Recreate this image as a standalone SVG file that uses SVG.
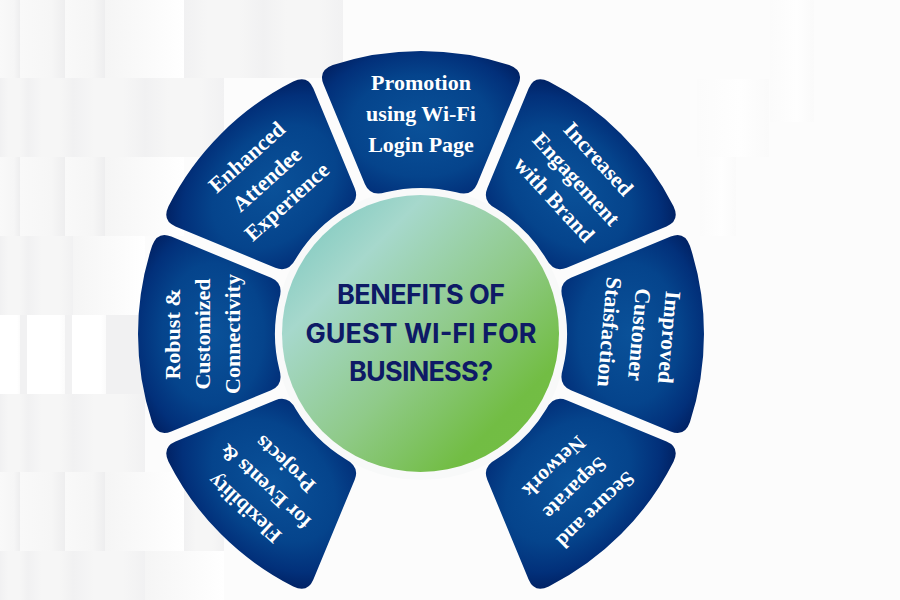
<svg xmlns="http://www.w3.org/2000/svg" width="900" height="600" viewBox="0 0 900 600">
<style>
.a{fill:url(#ta)}.b{fill:url(#tb)}.c{fill:url(#tc)}.d{fill:url(#td)}.e{fill:url(#te)}
.seg{fill:url(#blue)}
.lbl{font-family:"Liberation Serif","Times New Roman",serif;font-weight:700;font-size:22px;fill:#fff;text-anchor:middle}
.sm{font-size:21px}
.hub{font-family:Inter,"Liberation Sans",sans-serif;font-weight:700;font-size:27px;fill:#0e1a66;text-anchor:middle}
</style>
<defs>
<linearGradient id="ta"><stop offset="0" stop-color="#f9f9f9"/><stop offset=".7" stop-color="#f6f6f6"/><stop offset="1" stop-color="#eeeeef"/></linearGradient>
<linearGradient id="tb"><stop offset="0" stop-color="#f1f1f2"/><stop offset=".3" stop-color="#f6f6f6"/><stop offset=".7" stop-color="#f6f6f6"/><stop offset="1" stop-color="#f1f1f2"/></linearGradient>
<linearGradient id="tc"><stop offset="0" stop-color="#fff"/><stop offset=".85" stop-color="#fff"/><stop offset="1" stop-color="#fbfbfb"/></linearGradient>
<linearGradient id="td"><stop offset="0" stop-color="#fbfbfb"/><stop offset=".6" stop-color="#fefefe"/><stop offset="1" stop-color="#fafafa"/></linearGradient>
<linearGradient id="te"><stop offset="0" stop-color="#f5f5f5"/><stop offset="1" stop-color="#fff"/></linearGradient>
<radialGradient id="blue" gradientUnits="userSpaceOnUse" cx="0" cy="-208" r="128" gradientTransform="translate(0 -208) scale(1 .72) translate(0 208)"><stop offset="0" stop-color="#0a5199"/><stop offset=".55" stop-color="#05448c"/><stop offset=".82" stop-color="#02307a"/><stop offset="1" stop-color="#011f60"/></radialGradient>
<linearGradient id="green" x1="0" y1="0" x2="1" y2="1"><stop offset=".1" stop-color="#85cbc2"/><stop offset=".26" stop-color="#a6d8cc"/><stop offset=".55" stop-color="#8fca88"/><stop offset=".8" stop-color="#72bd44"/><stop offset="1" stop-color="#74bf44"/></linearGradient>
<path id="wedge" d="M-97.5-249.7Q-103.2-263.5-88.2-268.9A283 283 0 0 1 88.2-268.9Q103.2-263.5 97.5-249.7L56.15-149.9Q50.7-136.9 35.3-141.7A146 146 0 0 0-35.3-141.7Q-50.7-136.9-56.15-149.9Z"/>
</defs>
<g id="background">
<rect width="900" height="600" fill="#fcfcfc"/>
<rect class="a" x="0" y="0" width="20" height="78"/><rect class="a" x="20" y="0" width="45" height="78"/><rect class="a" x="65" y="0" width="40" height="78"/><rect class="e" x="105" y="0" width="79" height="78"/><rect class="b" x="184" y="0" width="79" height="78"/><rect class="b" x="263" y="0" width="80" height="78"/>
<rect class="b" x="0" y="78" width="28" height="79"/><rect class="b" x="28" y="78" width="45" height="79"/><rect class="b" x="73" y="78" width="72" height="79"/><rect class="b" x="145" y="78" width="79" height="79"/>
<rect class="a" x="0" y="157" width="20" height="79"/><rect class="a" x="20" y="157" width="45" height="79"/><rect class="a" x="65" y="157" width="40" height="79"/><rect class="e" x="105" y="157" width="79" height="79"/>
<rect class="b" x="0" y="236" width="28" height="79"/><rect class="b" x="28" y="236" width="45" height="79"/><rect class="e" x="73" y="236" width="72" height="79"/>
<rect x="0" y="315" width="145" height="79" fill="#f1f1f2"/>
<rect class="c" x="0" y="315" width="20" height="79"/><rect class="c" x="27" y="315" width="38" height="79"/><rect class="c" x="72" y="315" width="34" height="79"/>
<rect class="b" x="0" y="394" width="28" height="78"/><rect class="b" x="28" y="394" width="45" height="78"/><rect class="b" x="73" y="394" width="72" height="78"/>
<rect class="a" x="0" y="472" width="20" height="79"/><rect class="a" x="20" y="472" width="45" height="79"/><rect class="a" x="65" y="472" width="40" height="79"/><rect class="e" x="105" y="472" width="79" height="79"/><rect class="b" x="184" y="472" width="40" height="79"/>
<rect class="b" x="0" y="551" width="28" height="49"/><rect class="b" x="28" y="551" width="45" height="49"/><rect class="b" x="73" y="551" width="72" height="49"/><rect class="e" x="145" y="551" width="79" height="49"/>
<rect class="d" x="770" y="0" width="44" height="122"/><rect class="d" x="697" y="79" width="72" height="78"/><rect class="d" x="700" y="157" width="36" height="79"/>
</g>
<circle cx="421" cy="334" r="146" fill="#f8f9f9"/>
<g id="connectors"/>
<g id="node-promotion" transform="translate(421 334)"><use href="#wedge" class="seg"/>
<text class="lbl" y="-244">Promotion</text><text class="lbl" y="-213">using Wi-Fi</text><text class="lbl" y="-182">Login Page</text></g>
<g id="node-engagement" transform="translate(421 334) rotate(45)"><use href="#wedge" class="seg"/>
<g transform="rotate(2.5 0 -212)"><text class="lbl" y="-242">Increased</text><text class="lbl" y="-212">Engagement</text><text class="lbl" y="-182">with Brand</text></g></g>
<g id="node-satisfaction" transform="translate(421 334) rotate(90)"><use href="#wedge" class="seg"/>
<g transform="rotate(5 0 -212)"><text class="lbl" y="-241">Improved</text><text class="lbl" y="-211">Customer</text><text class="lbl" y="-181">Staisfaction</text></g></g>
<g id="node-secure" transform="translate(421 334) rotate(135)"><use href="#wedge" class="seg"/>
<g transform="rotate(1 0 -212)"><text class="lbl sm" y="-241">Secure and</text><text class="lbl sm" y="-211">Separate</text><text class="lbl sm" y="-181">Network</text></g></g>
<g id="node-flexibility" transform="translate(421 334) rotate(225)"><use href="#wedge" class="seg"/>
<g transform="rotate(-2.5 0 -212)"><text class="lbl sm" x="3" y="-241">Flexibility</text><text class="lbl sm" x="3" y="-211">for Events &amp;</text><text class="lbl sm" x="3" y="-181">Projects</text></g></g>
<g id="node-robust" transform="translate(421 334) rotate(270)"><use href="#wedge" class="seg"/>
<text class="lbl" y="-241">Robust &amp;</text><text class="lbl" y="-211">Customized</text><text class="lbl" y="-181">Connectivity</text></g>
<g id="node-attendee" transform="translate(421 334) rotate(315)"><use href="#wedge" class="seg"/>
<g transform="rotate(3 0 -212)"><text class="lbl" y="-241">Enhanced</text><text class="lbl" y="-211">Attendee</text><text class="lbl" y="-181">Experience</text></g></g>
<g id="node-hub"><circle cx="420.5" cy="333.5" r="138.5" fill="url(#green)"/>
<text class="hub" x="421" y="304" textLength="168">BENEFITS OF</text><text class="hub" x="421" y="342.5" textLength="231">GUEST WI-FI FOR</text><text class="hub" x="421" y="380.5" textLength="144">BUSINESS?</text></g>
</svg>
